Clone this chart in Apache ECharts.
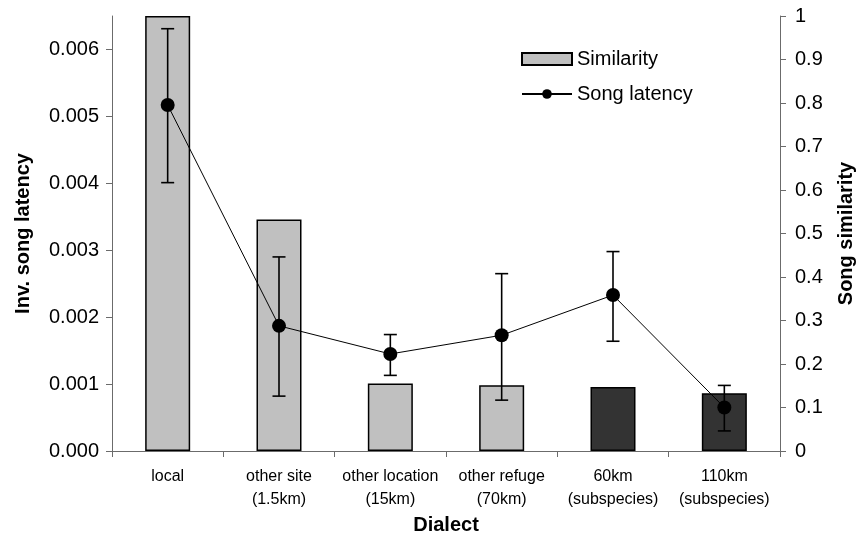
<!DOCTYPE html>
<html>
<head>
<meta charset="utf-8">
<script src="https://cdn.jsdelivr.net/npm/echarts@6/dist/echarts.min.js"></script>
<style>
  html, body { margin: 0; padding: 0; background: #ffffff; }
  #chart { width: 858px; height: 537px; }
</style>
</head>
<body>
<div id="chart"></div>
<script>
// Dialect categories along the x axis
const dialects = [
  'local',
  'other site\n(1.5km)',
  'other location\n(15km)',
  'other refuge\n(70km)',
  '60km\n(subspecies)',
  '110km\n(subspecies)'
];

// Song similarity (right axis, bars)
const similarity = [1.0, 0.532, 0.155, 0.151, 0.147, 0.133];
// Whether the dialect belongs to another subspecies (drawn dark)
const isSubspecies = [false, false, false, false, true, true];

// Inverse song latency (left axis, line) with error bar limits
const latency     = [0.00517, 0.00187, 0.00145, 0.00173, 0.00233, 0.00065];
const latencyHigh = [0.00631, 0.00290, 0.00174, 0.00265, 0.00298, 0.00098];
const latencyLow  = [0.00401, 0.00082, 0.00113, 0.00076, 0.00164, 0.00030];

const FONT = 'Liberation Sans, Arial, sans-serif';
const AXIS_GREY = '#6b6b6b';

const chart = echarts.init(document.getElementById('chart'), null, { renderer: 'canvas' });

const barData = similarity.map((v, i) => ({
  value: v,
  itemStyle: { color: isSubspecies[i] ? '#333333' : '#c0c0c0' }
}));

const errData = latency.map((_, i) => [i, latencyLow[i], latencyHigh[i]]);

chart.setOption({
  animation: false,
  backgroundColor: '#ffffff',
  textStyle: { fontFamily: FONT, color: '#000' },
  grid: {
    left: 112, right: 78, top: 16, bottom: 86,
    containLabel: false,
    outerBoundsMode: 'none'
  },
  legend: [
    {
      data: [{ name: 'Similarity', icon: 'rect' }],
      left: 516, top: 44,
      itemWidth: 50, itemHeight: 12,
      textStyle: { fontFamily: FONT, fontSize: 20, color: '#000' }
    },
    {
      data: ['Song latency'],
      left: 516, top: 79,
      itemWidth: 50, itemHeight: 12,
      textStyle: { fontFamily: FONT, fontSize: 20, color: '#000' }
    }
  ],
  xAxis: {
    type: 'category',
    data: dialects,
    name: 'Dialect',
    nameLocation: 'middle',
    nameGap: 64,
    nameTextStyle: { fontFamily: FONT, fontSize: 20, fontWeight: 'bold', color: '#000' },
    axisLine: { lineStyle: { color: AXIS_GREY, width: 1 } },
    axisTick: { show: true, length: 6, lineStyle: { color: AXIS_GREY } },
    axisLabel: {
      interval: 0, margin: 14,
      fontFamily: FONT, fontSize: 16, color: '#000', lineHeight: 23
    },
    splitLine: { show: false }
  },
  yAxis: [
    {
      type: 'value',
      min: 0, max: 0.0065, interval: 0.001,
      name: 'Inv. song latency',
      nameLocation: 'middle',
      nameRotate: 90,
      nameGap: 79,
      nameTextStyle: { fontFamily: FONT, fontSize: 20, fontWeight: 'bold', color: '#000' },
      axisLine: { show: true, lineStyle: { color: AXIS_GREY, width: 1 } },
      axisTick: { show: true, length: 6, lineStyle: { color: AXIS_GREY } },
      axisLabel: {
        margin: 13, fontFamily: FONT, fontSize: 20, color: '#000',
        formatter: v => v.toFixed(3),
        showMaxLabel: false
      },
      splitLine: { show: false }
    },
    {
      type: 'value',
      min: 0, max: 1, interval: 0.1,
      name: 'Song similarity',
      nameLocation: 'middle',
      nameRotate: 90,
      nameGap: 56,
      nameTextStyle: { fontFamily: FONT, fontSize: 20, fontWeight: 'bold', color: '#000' },
      axisLine: { show: true, lineStyle: { color: AXIS_GREY, width: 1 } },
      axisTick: { show: true, length: 6, lineStyle: { color: AXIS_GREY } },
      axisLabel: { margin: 15, fontFamily: FONT, fontSize: 20, color: '#000' },
      splitLine: { show: false }
    }
  ],
  series: [
    {
      name: 'Similarity',
      type: 'bar',
      yAxisIndex: 1,
      barWidth: 45,
      data: barData,
      itemStyle: { color: '#c0c0c0', borderColor: '#000', borderWidth: 1.5 },
      z: 2
    },
    {
      name: 'errors',
      type: 'custom',
      yAxisIndex: 0,
      data: errData,
      z: 3,
      silent: true,
      renderItem: function (params, api) {
        const x = api.value(0);
        const lo = api.coord([x, api.value(1)]);
        const hi = api.coord([x, api.value(2)]);
        const cap = 6.5;
        const style = { stroke: '#000', lineWidth: 1.6 };
        return {
          type: 'group',
          children: [
            { type: 'line', shape: { x1: lo[0], y1: lo[1], x2: hi[0], y2: hi[1] }, style },
            { type: 'line', shape: { x1: hi[0] - cap, y1: hi[1], x2: hi[0] + cap, y2: hi[1] }, style },
            { type: 'line', shape: { x1: lo[0] - cap, y1: lo[1], x2: lo[0] + cap, y2: lo[1] }, style }
          ]
        };
      }
    },
    {
      name: 'Song latency',
      type: 'line',
      yAxisIndex: 0,
      data: latency,
      symbol: 'circle',
      symbolSize: 14,
      itemStyle: { color: '#000' },
      lineStyle: { color: '#000', width: 1 },
      z: 4
    }
  ]
});
</script>
</body>
</html>
